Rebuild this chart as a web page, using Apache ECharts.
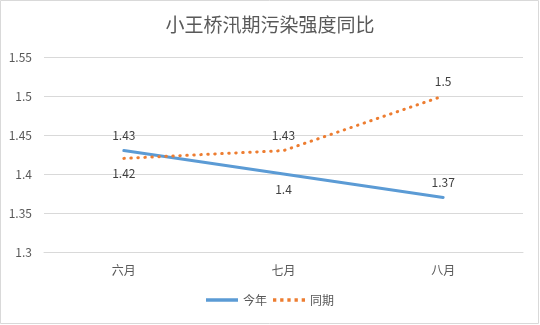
<!DOCTYPE html>
<html><head><meta charset="utf-8">
<script src="https://cdn.jsdelivr.net/npm/echarts@6/dist/echarts.min.js"></script>
<style>html,body{margin:0;padding:0;background:#fff}#c{width:540px;height:325px}</style>
</head><body><div id="c"></div>
<script>
const title = '小王桥汛期污染强度同比';
const categories = ['六月', '七月', '八月'];
const thisYear = [1.43, 1.4, 1.37];
const lastYear = [1.42, 1.43, 1.5];
const thisYearLabelPos = ['top', 'bottom', 'top'];
const lastYearLabelPos = ['bottom', 'top', 'top'];
const yTicks = {min: 1.3, max: 1.55, interval: 0.05};

const font = '"Noto Sans CJK SC", "Noto Sans", sans-serif';
const chart = echarts.init(document.getElementById('c'), null, {renderer: 'canvas'});
const dotsIcon = 'path://M0,0 h3 v3 h-3 Z M6.5,0 h3 v3 h-3 Z M13,0 h3 v3 h-3 Z M19.5,0 h3 v3 h-3 Z M26,0 h3 v3 h-3 Z';
chart.setOption({
  animation: false,
  backgroundColor: '#fff',
  graphic: [{type: 'rect', shape: {x: 0.5, y: 0.5, width: 538, height: 323}, style: {fill: 'none', stroke: '#d9d9d9', lineWidth: 1}, silent: true, z: -1}],
  title: {text: title, left: 'center', top: 10, textStyle: {fontFamily: font, fontSize: 19, fontWeight: 'normal', color: '#595959'}},
  grid: {left: 44, right: 17, top: 57, bottom: 73, containLabel: false},
  legend: {bottom: 14, left: 'center', itemWidth: 32, itemHeight: 10, itemGap: 6,
    textStyle: {fontFamily: font, fontSize: 12, color: '#595959'},
    data: [
      {name: '今年', icon: 'path://M0,0 L32,0 L32,3.5 L0,3.5 Z', itemStyle: {color: '#5B9BD5', opacity: 1}},
      {name: '同期', icon: dotsIcon, itemStyle: {color: '#ED7D31', opacity: 1}}
    ]},
  xAxis: {type: 'category', data: categories, boundaryGap: true,
    axisLine: {show: true, lineStyle: {color: '#d9d9d9'}}, axisTick: {show: false},
    axisLabel: {fontFamily: font, fontSize: 12, color: '#595959', margin: 12}},
  yAxis: {type: 'value', min: yTicks.min, max: yTicks.max, interval: yTicks.interval,
    axisLine: {show: false}, axisTick: {show: false},
    splitLine: {lineStyle: {color: '#d9d9d9', width: 1}},
    axisLabel: {fontFamily: font, fontSize: 12, color: '#595959', margin: 12, formatter: v => String(+v.toFixed(2))}},
  series: [
    {name: '今年', type: 'line', symbol: 'circle', symbolSize: 0.1, showSymbol: true,
      lineStyle: {color: '#5B9BD5', width: 3, cap: 'round'}, itemStyle: {color: '#5B9BD5'},
      data: thisYear.map((v, i) => ({value: v, label: {position: thisYearLabelPos[i]}})),
      label: {show: true, distance: 9, fontFamily: font, fontSize: 12, color: '#404040', formatter: p => String(p.value)}},
    {name: '同期', type: 'line', symbol: 'circle', symbolSize: 0.1, showSymbol: true,
      lineStyle: {color: '#ED7D31', width: 3, type: [0.5, 6.5], cap: 'round'}, itemStyle: {color: '#ED7D31'},
      data: lastYear.map((v, i) => ({value: v, label: {position: lastYearLabelPos[i]}})),
      label: {show: true, distance: 9, fontFamily: font, fontSize: 12, color: '#404040', formatter: p => String(p.value)}}
  ]
});
</script></body></html>
